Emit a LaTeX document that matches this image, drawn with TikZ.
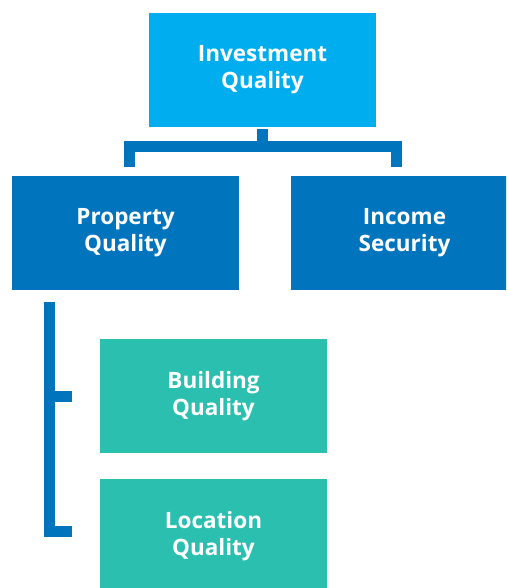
\documentclass[tikz,border=0pt]{standalone}
\usepackage{fontspec}
\setmainfont{Open Sans}
\definecolor{skyblue}{RGB}{0,174,239}
\definecolor{deepblue}{RGB}{0,117,190}
\definecolor{teal}{RGB}{43,191,176}
\begin{document}
\begin{tikzpicture}[x=1pt,y=-1pt,
    box/.style={inner sep=0pt, minimum width=227pt, minimum height=114pt, align=center,
      text=white, font=\fontsize{22.5}{27}\selectfont\bfseries},
    conn/.style={draw=deepblue, line width=11pt, line join=miter}]
    \useasboundingbox (0,0) rectangle (506,588);
    \clip (0,0) rectangle (506,588);
    % top level
    \node[box, fill=skyblue] (inv) at (262.5,70) {Investment\\Quality};
    \node[box, fill=deepblue] (prop) at (125.5,233) {Property\\Quality};
    \node[box, fill=deepblue] (inc) at (404.5,233) {Income\\Security};
    % second level
    \node[box, fill=teal] (bld) at (213.5,396) {Building\\Quality};
    \node[box, fill=teal] (loc) at (213.5,536) {Location\\Quality};
    % brackets
    \draw[conn] ([yshift=-2pt]inv.south) -- ++(0,17.5) coordinate (hub);
    \draw[conn] ([xshift=4pt,yshift=9pt]prop.north) |- (hub) -| ([xshift=-8pt,yshift=9pt]inc.north);
    \draw[conn] ([xshift=37.5pt,yshift=-12pt]prop.south west) coordinate (bk) |- ([xshift=-28pt,yshift=5pt]loc.west);
    \draw[conn] (bk |- bld.west) -- ([xshift=-28pt]bld.west);
\end{tikzpicture}
\end{document}
